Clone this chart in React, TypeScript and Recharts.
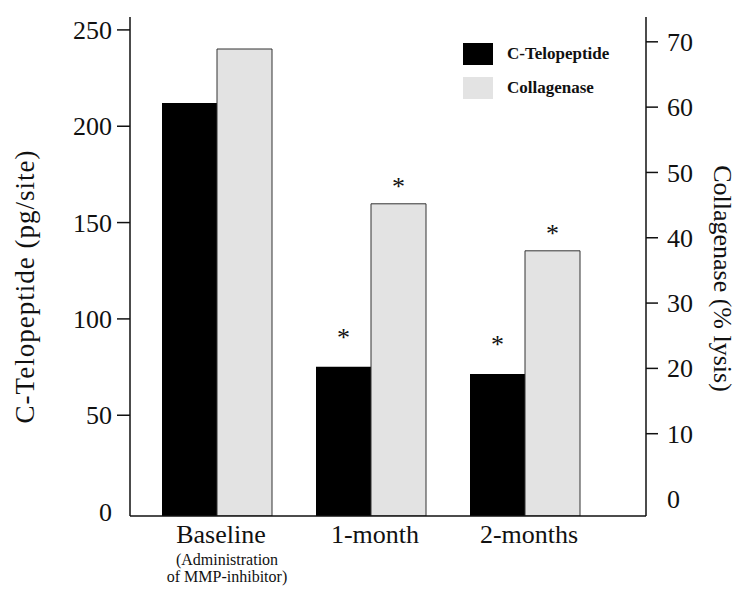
import { BarChart, Bar, XAxis, YAxis, Legend, LabelList } from "recharts";

const categories = ["Baseline", "1-month", "2-months"];
const categoryNotes = [["(Administration", "of MMP-inhibitor)"], [], []];
const cTelopeptide = [212, 75.2, 71.4];
const collagenase = [68.9, 45.2, 38.0];
const significant = [false, true, true];
const leftTicks = [0, 50, 100, 150, 200, 250];
const rightTicks = [0, 10, 20, 30, 40, 50, 60, 70];
const leftDomain = [-2.3, 256.7];
const rightDomain = [-2.6, 73.8];

const FONT = "'Liberation Serif', 'Times New Roman', serif";
const INK = "#111";
const GREY = "#e3e3e3";

const data = categories.map((name, i) => ({
  name,
  ctel: cTelopeptide[i],
  coll: collagenase[i],
  sig: significant[i],
}));

// no tick mark at 0 on either axis, so the marks are drawn here
function LeftTick(props: any) {
  const { x, y, payload } = props;
  return (
    <g>
      {payload.value !== 0 ? (
        <path d={`M${x + 5},${y}H${x + 18}`} stroke={INK} strokeWidth={1.5} fill="none" />
      ) : null}
      <text x={x} y={y} dy="0.35em" textAnchor="end" fontFamily={FONT} fontSize={26} fill={INK}>
        {payload.value}
      </text>
    </g>
  );
}

function RightTick(props: any) {
  const { x, y, payload } = props;
  return (
    <g>
      {payload.value !== 0 ? (
        <path d={`M${x - 21},${y}H${x - 9}`} stroke={INK} strokeWidth={1.5} fill="none" />
      ) : null}
      <text x={x} y={y} dy="0.35em" textAnchor="start" fontFamily={FONT} fontSize={26} fill={INK}>
        {payload.value}
      </text>
    </g>
  );
}

function CategoryTick({ x, y, payload, index }: any) {
  const notes = categoryNotes[index] || [];
  return (
    <g>
      <text x={x + 4} y={y + 27} textAnchor="middle" fontFamily={FONT} fontSize={26} fill={INK}>
        {payload.value}
      </text>
      {notes.map((line, k) => (
        <text key={k} x={x + 10} y={y + 49 + k * 17} textAnchor="middle" fontFamily={FONT} fontSize={16} fill={INK}>
          {line}
        </text>
      ))}
    </g>
  );
}

const leftTitle = ({ viewBox }: any) => {
  const cx = viewBox.x + 25;
  const cy = viewBox.y + viewBox.height / 2 + 20;
  return (
    <text x={cx} y={cy} transform={`rotate(-90, ${cx}, ${cy})`} textAnchor="middle" dominantBaseline="central"
      fontFamily={FONT} fontSize={27} letterSpacing={1} fill={INK}>
      C-Telopeptide (pg/site)
    </text>
  );
};

const rightTitle = ({ viewBox }: any) => {
  const cx = viewBox.x + 76;
  const cy = viewBox.y + viewBox.height / 2 + 12;
  return (
    <text x={cx} y={cy} transform={`rotate(90, ${cx}, ${cy})`} textAnchor="middle" dominantBaseline="central"
      fontFamily={FONT} fontSize={26} fill={INK}>
      Collagenase (% lysis)
    </text>
  );
};

const starLabel = (offset: number) => (p: any) =>
  p.value ? (
    <text x={p.x + p.width / 2} y={p.y - offset + 12} textAnchor="middle" fontFamily={FONT} fontSize={26} fill={INK}>
      *
    </text>
  ) : null;

function LegendBox({ payload }: any) {
  return (
    <div style={{ fontFamily: FONT, fontWeight: "bold", fontSize: 17, color: INK }}>
      {(payload || []).map((e: any) => (
        <div key={e.value} style={{ display: "flex", alignItems: "center", height: 34 }}>
          <span style={{ display: "inline-block", width: 30, height: 22, background: e.color, marginRight: 14 }} />
          {e.value}
        </div>
      ))}
    </div>
  );
}

export default function App() {
  return (
    <div style={{ position: "absolute", left: 0, top: 0, background: "#fff" }}>
      <BarChart width={750} height={597} data={data} margin={{ top: 17, right: 0, bottom: 0, left: 0 }}
        barCategoryGap={22} barGap={0}>
        <XAxis dataKey="name" height={81} padding={{ left: 10, right: 44 }} tickLine={false} tickSize={0} tickMargin={0}
          axisLine={{ stroke: INK, strokeWidth: 1.5 }} tick={<CategoryTick />} interval={0} />
        <XAxis xAxisId="top" orientation="top" dataKey="name" height={0} tick={false} tickLine={false}
          padding={{ left: 10, right: 44 }} axisLine={{ stroke: INK, strokeWidth: 1.5 }} />
        <YAxis yAxisId="left" width={130} domain={leftDomain} ticks={leftTicks} type="number" allowDataOverflow
          tickLine={false} tickSize={13} tickMargin={5} tick={<LeftTick />} axisLine={{ stroke: INK, strokeWidth: 1.5 }}
          label={leftTitle} />
        <YAxis yAxisId="right" orientation="right" width={104} domain={rightDomain} ticks={rightTicks} type="number"
          allowDataOverflow tickLine={false} tickSize={12} tickMargin={9} tick={<RightTick />}
          axisLine={{ stroke: INK, strokeWidth: 1.5 }} label={rightTitle} />
        <Legend layout="vertical" align="center" verticalAlign="middle" content={<LegendBox />}
          wrapperStyle={{ left: 463, top: 37, width: 200, height: 70 }} />
        <Bar yAxisId="left" name="C-Telopeptide" dataKey={(d: any) => [leftDomain[0], d.ctel]} fill="#000"
          isAnimationActive={false}>
          <LabelList dataKey="sig" content={starLabel(33)} />
        </Bar>
        <Bar yAxisId="right" name="Collagenase" dataKey={(d: any) => [rightDomain[0], d.coll]} fill={GREY}
          stroke="#333" strokeWidth={1} isAnimationActive={false}>
          <LabelList dataKey="sig" content={starLabel(21)} />
        </Bar>
      </BarChart>
    </div>
  );
}
